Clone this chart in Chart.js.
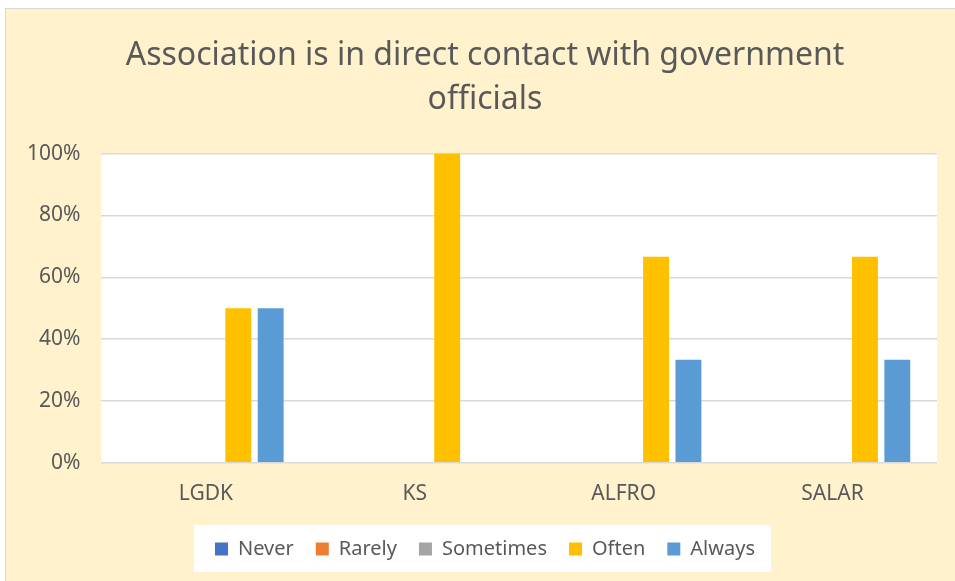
<!DOCTYPE html>
<html>
<head>
<meta charset="utf-8">
<script src="https://cdn.jsdelivr.net/npm/chart.js@4"></script>
<style>
	html, body { margin: 0; padding: 0; background: #fff; overflow: hidden; }
	#frame {
		position: absolute; left: 5px; top: 8px; width: 962px; height: 575px;
		border: 1px solid #d9d9d9; background: #fff2cc;
	}
	#wrap { position: absolute; left: 0; top: 0; width: 960px; height: 573px; }
</style>
</head>
<body>
<div id="frame"><div id="wrap"><canvas id="myChart"></canvas></div></div>
<script>
const categories = ['LGDK', 'KS', 'ALFRO', 'SALAR']
const never = [0, 0, 0, 0]
const rarely = [0, 0, 0, 0]
const sometimes = [0, 0, 0, 0]
const often = [50, 100, 66.67, 66.67]
const always = [50, 0, 33.33, 33.33]
const yTicks = [0, 20, 40, 60, 80, 100]

const textColor = '#595959'
const font = "'Noto Sans', 'Open Sans', sans-serif"

// white plot area and white box behind the legend
const plotBackground = {
	id: 'plotBackground',
	beforeDraw: (chart) => {
		const { ctx, chartArea } = chart
		ctx.save()
		ctx.fillStyle = '#ffffff'
		ctx.fillRect(chartArea.left, chartArea.top, chartArea.right - chartArea.left, chartArea.bottom - chartArea.top)
		const boxes = chart.legend.legendHitBoxes
		if (boxes && boxes.length) {
			const left = Math.min(...boxes.map((b) => b.left)) - 21
			const right = Math.max(...boxes.map((b) => b.left + b.width)) + 16
			const top = boxes[0].top - 14
			ctx.fillRect(left, top, right - left, boxes[0].height + 27)
		}
		ctx.restore()
	},
}

const makeSet = (label, data, color) => ({
	label,
	data,
	backgroundColor: color,
	barPercentage: 0.8,
	categoryPercentage: 0.775,
})

new Chart(document.getElementById('myChart'), {
	type: 'bar',
	data: {
		labels: categories,
		datasets: [
			makeSet('Never', never, '#4472c4'),
			makeSet('Rarely', rarely, '#ed7d31'),
			makeSet('Sometimes', sometimes, '#a5a5a5'),
			makeSet('Often', often, '#ffc000'),
			makeSet('Always', always, '#5b9bd5'),
		],
	},
	options: {
		responsive: true,
		maintainAspectRatio: false,
		animation: false,
		layout: { padding: { left: 0, right: 2, top: 24, bottom: 13 } },
		scales: {
			x: {
				grid: { display: false },
				border: { display: false },
				ticks: { color: textColor, font: { family: font, size: 21 }, padding: 11 },
				afterFit: (axis) => { axis.height -= 1 },
			},
			y: {
				min: 0,
				max: 100,
				afterBuildTicks: (axis) => { axis.ticks = yTicks.map((v) => ({ value: v })) },
				grid: { color: '#d9d9d9', lineWidth: 1.5, drawTicks: false },
				border: { display: false },
				ticks: {
					color: textColor,
					font: { family: font, size: 21 },
					padding: 21,
					callback: (v) => v + '%',
				},
			},
			// empty spacer on the right so the title sits where it does in the original
			spacer: {
				position: 'right',
				grid: { display: false },
				border: { display: false },
				ticks: { display: false },
				afterFit: (axis) => { axis.width = 27 },
			},
		},
		plugins: {
			title: {
				display: true,
				text: ['Association is in direct contact with government', 'officials'],
				color: textColor,
				font: { family: font, size: 32, weight: 'normal', lineHeight: 1.4 },
				padding: { top: 0, bottom: 31 },
			},
			legend: {
				position: 'bottom',
				labels: {
					color: textColor,
					font: { family: font, size: 20 },
					boxWidth: 13,
					boxHeight: 13,
					padding: 22,
				},
			},
			tooltip: { enabled: false },
		},
	},
	plugins: [plotBackground],
})
</script>
</body>
</html>
